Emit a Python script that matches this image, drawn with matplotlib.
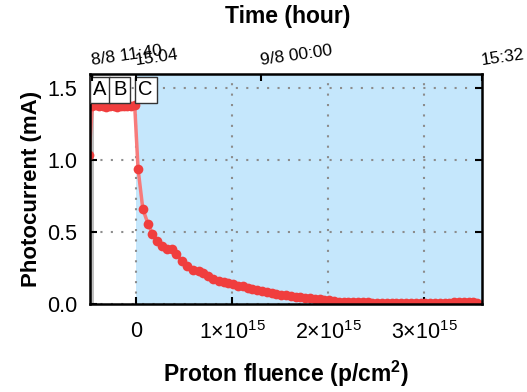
import numpy as np
import matplotlib
matplotlib.use('Agg')
import matplotlib.pyplot as plt

plt.rcParams['font.family'] = ['Liberation Sans', 'DejaVu Sans']
plt.rcParams['mathtext.fontset'] = 'custom'
plt.rcParams['mathtext.rm'] = 'Liberation Sans'
plt.rcParams['mathtext.bf'] = 'Liberation Sans:bold'

# fluence in units of 1e15 p/cm2, photocurrent in mA
fluence = [-0.49, -0.455, -0.42, -0.385, -0.35, -0.31, -0.27, -0.235, -0.20,
           -0.16, -0.125, -0.09, -0.05, -0.015, 0.02, 0.07, 0.125, 0.17,
           0.22, 0.27, 0.32, 0.375, 0.42, 0.475, 0.53, 0.59, 0.65, 0.70,
           0.75, 0.805, 0.86, 0.91, 0.96, 1.01, 1.06, 1.11, 1.16, 1.21,
           1.26, 1.31, 1.36, 1.41, 1.46, 1.51, 1.56, 1.61, 1.66, 1.71,
           1.76, 1.81, 1.86, 1.91, 1.96, 2.01, 2.06, 2.11, 2.16, 2.21,
           2.26, 2.31, 2.36, 2.41, 2.46, 2.51, 2.56, 2.61, 2.66, 2.71,
           2.76, 2.81, 2.86, 2.91, 2.96, 3.01, 3.06, 3.11, 3.16, 3.21,
           3.26, 3.31, 3.36, 3.41, 3.46, 3.51, 3.55]
current = [1.04, 1.38, 1.385, 1.375, 1.38, 1.37, 1.375, 1.38, 1.37,
           1.375, 1.38, 1.375, 1.38, 1.385, 0.94, 0.66, 0.555, 0.49,
           0.44, 0.40, 0.384, 0.38, 0.347, 0.30, 0.264, 0.236, 0.227, 0.213,
           0.194, 0.176, 0.162, 0.155, 0.144, 0.138, 0.128, 0.122, 0.113, 0.104,
           0.097, 0.090, 0.083, 0.077, 0.071, 0.066, 0.060, 0.055, 0.051, 0.047,
           0.043, 0.040, 0.037, 0.034, 0.030, 0.025, 0.020, 0.017, 0.015, 0.013,
           0.012, 0.012, 0.011, 0.011, 0.010, 0.010, 0.010, 0.009, 0.009, 0.009,
           0.009, 0.009, 0.009, 0.009, 0.009, 0.009, 0.009, 0.009, 0.009, 0.010,
           0.010, 0.011, 0.012, 0.012, 0.012, 0.011, 0.010]

time_ticks = [-0.458, 0.0, 1.30, 3.60]
time_labels = ['8/8 11:40', '15:04', '9/8 00:00', '15:32']

regions = ['A', 'B', 'C']
region_x = [-0.375, -0.17, 0.10]

x = np.array(fluence) * 1e15
xmin, xmax = -0.48e15, 3.60e15

fig = plt.figure(figsize=(5.27, 3.92), dpi=100)
ax = fig.add_axes([0.1708, 0.2245, 0.7438, 0.5867])

ax.axvspan(xmin, -0.44e15, color='#c0c0c0', lw=0, zorder=0)
ax.axvspan(0, xmax, color='#c5e7fc', lw=0, zorder=0)

ax.plot(x, current, '-', color='#f77b7b', lw=2.5, zorder=3)
ax.plot(x, current, 'o', color='#f03e3e', ms=7, mec='none', zorder=4)

ax.set_xlim(xmin, xmax)
ax.set_ylim(0, 1.6)
ax.set_xticks([0, 1e15, 2e15, 3e15])
ax.set_xticklabels(['0', r'$1{\times}10^{15}$', r'$2{\times}10^{15}$',
                    r'$3{\times}10^{15}$'])
ax.set_yticks([0, 0.5, 1.0, 1.5])
ax.set_yticklabels(['0.0', '0.5', '1.0', '1.5'])
ax.tick_params(direction='in', length=5, width=1.5, labelsize=15.5, pad=9,
               right=True)
ax.tick_params(axis='x', pad=12)
ax.grid(True, color='#8c8c8c', linestyle=(0, (1, 4)), lw=1.5)
ax.set_axisbelow(False)
for s in ax.spines.values():
    s.set_linewidth(1.8)
    s.set_zorder(6)

for lab, rx in zip(regions, region_x):
    ax.text(rx * 1e15, 1.49, lab, ha='center', va='center', fontsize=14.5,
            zorder=7,
            bbox=dict(boxstyle='square,pad=0.18', fc='white', ec='#333333',
                      lw=1))

ax.set_xlabel(r'Proton fluence (p/cm$\mathbf{^2}$)', fontsize=16.5,
              fontweight='bold', labelpad=11)
ax.set_ylabel('Photocurrent (mA)', fontsize=16, fontweight='bold',
              labelpad=4)

ax2 = ax.twiny()
ax2.set_xlim(xmin, xmax)
ax2.set_xticks(np.array(time_ticks) * 1e15)
ax2.set_xticklabels(time_labels, rotation=8, ha='left',
                    rotation_mode='anchor', fontsize=12.5)
ax2.tick_params(direction='in', length=5, width=1.5, pad=4)
for s in ax2.spines.values():
    s.set_visible(False)

fig.text(0.545, 0.958, 'Time (hour)', ha='center', va='center',
         fontsize=16.5, fontweight='bold')

fig.savefig('out.png', dpi=100)
